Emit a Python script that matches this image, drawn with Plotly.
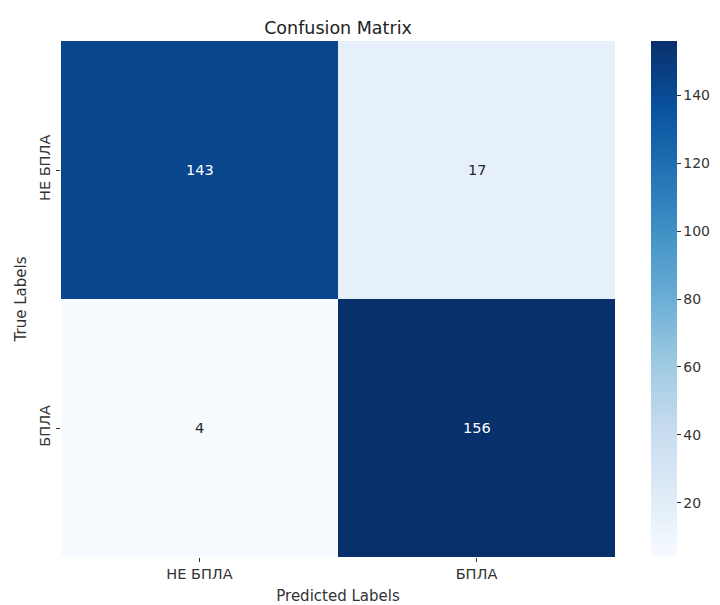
import plotly.graph_objects as go

# Confusion matrix counts (rows: true labels, columns: predicted labels)
class_labels = ["НЕ БПЛА", "БПЛА"]
counts = [[143, 17],
          [4, 156]]
colorbar_ticks = [20, 40, 60, 80, 100, 120, 140]

# matplotlib "Blues" colormap
blues = [
    [0.0, "#f7fbff"], [0.125, "#deebf7"], [0.25, "#c6dbef"],
    [0.375, "#9ecae1"], [0.5, "#6baed6"], [0.625, "#4292c6"],
    [0.75, "#2171b5"], [0.875, "#08519c"], [1.0, "#08306b"],
]

vmin = min(min(r) for r in counts)
vmax = max(max(r) for r in counts)

L, R, T, B = 61, 105, 41, 48
W, H = 720, 605
plot_w = W - L - R

fig = go.Figure(go.Heatmap(
    z=counts, x=class_labels, y=class_labels,
    colorscale=blues, zmin=vmin, zmax=vmax,
    xgap=0, ygap=0,
    colorbar=dict(
        x=1 + (651 - (W - R)) / plot_w, xanchor="left", y=0.5, yanchor="middle",
        len=1.0, lenmode="fraction", thickness=26, xpad=0, ypad=0,
        outlinewidth=0, tickvals=colorbar_ticks,
        ticks="outside", ticklen=4, tickcolor="#333",
        tickfont=dict(family="DejaVu Sans", size=14, color="#333"),
    ),
    hoverinfo="skip",
))

# Cell value labels: white on dark cells, dark on light cells
for i, row in enumerate(counts):
    for j, v in enumerate(row):
        frac = (v - vmin) / (vmax - vmin)
        fig.add_annotation(
            x=class_labels[j], y=class_labels[i], text=str(v),
            showarrow=False,
            font=dict(family="DejaVu Sans", size=14.5,
                      color="white" if frac > 0.5 else "#262626"),
        )

fig.update_layout(
    width=W, height=H,
    margin=dict(l=L, r=R, t=T, b=B, autoexpand=False),
    paper_bgcolor="white", plot_bgcolor="white",
    title=dict(text="Confusion Matrix", x=(L + (W - R)) / 2 / W, xanchor="center",
               y=1 - 28 / H, yanchor="middle",
               font=dict(family="DejaVu Sans", size=17.5, color="#222")),
    font=dict(family="DejaVu Sans", size=14.5, color="#333"),
)
fig.update_xaxes(
    title=dict(text="Predicted Labels", font=dict(size=15, color="#333"), standoff=10),
    ticks="outside", ticklen=4, tickcolor="#333", showgrid=False, zeroline=False,
    tickfont=dict(size=14.5, color="#333"), automargin=False,
)
fig.update_yaxes(
    title=dict(text="True Labels", font=dict(size=15, color="#333"), standoff=6),
    autorange="reversed", tickangle=-90,
    ticks="outside", ticklen=4, tickcolor="#333", showgrid=False, zeroline=False,
    tickfont=dict(size=14.5, color="#333"), automargin=False,
)

fig.write_html("out.html")
